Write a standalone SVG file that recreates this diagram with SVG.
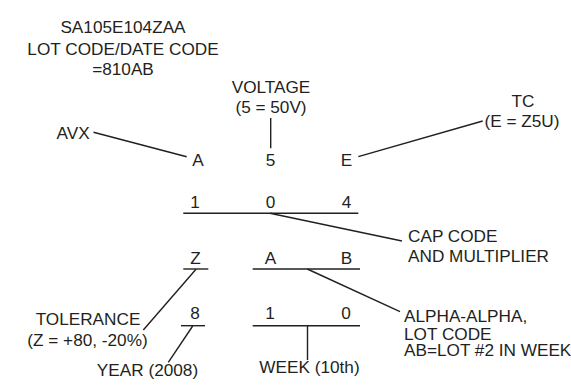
<svg xmlns="http://www.w3.org/2000/svg" width="571" height="392" viewBox="0 0 571 392">
<style>
text{font-family:"Liberation Sans",Arial,Helvetica,sans-serif;font-size:17.2px;fill:#231f20}
.c{text-anchor:middle}
.l{fill:none;stroke:#231f20;stroke-width:1.4}
</style>
<rect width="571" height="392" fill="#fff"/>
<g id="title">
<text class="c" x="123" y="32.5">SA105E104ZAA</text>
<text class="c" x="123" y="54.5">LOT CODE/DATE CODE</text>
<text class="c" x="123" y="75">=810AB</text>
</g>
<g id="voltage"><text class="c" x="271" y="92.5">VOLTAGE</text><text class="c" x="271" y="113">(5 = 50V)</text></g>
<g id="avx"><text x="56.5" y="138.5">AVX</text></g>
<g id="tc"><text class="c" x="523" y="107">TC</text><text class="c" x="522" y="127">(E = Z5U)</text></g>
<g id="row1"><text class="c" x="198" y="166">A</text><text class="c" x="270.5" y="166">5</text><text class="c" x="346.5" y="166">E</text></g>
<g id="row2"><text class="c" x="195" y="207.5">1</text><text class="c" x="270.5" y="207.5">0</text><text class="c" x="346.5" y="207.5">4</text></g>
<g id="capcode"><text x="408" y="241.5">CAP CODE</text><text x="408" y="261.5">AND MULTIPLIER</text></g>
<g id="row3"><text class="c" x="195.5" y="264">Z</text><text class="c" x="270.5" y="264">A</text><text class="c" x="346.5" y="264">B</text></g>
<g id="row4"><text class="c" x="195" y="319">8</text><text class="c" x="270" y="319">1</text><text class="c" x="346" y="319">0</text></g>
<g id="tolerance"><text class="c" x="88" y="325">TOLERANCE</text><text class="c" x="87.5" y="346">(Z = +80, -20%)</text></g>
<g id="alpha"><text x="404" y="321.5">ALPHA-ALPHA,</text><text x="404" y="339.5">LOT CODE</text><text x="404" y="356">AB=LOT #2 IN WEEK</text></g>
<g id="year"><text class="c" x="147.5" y="376">YEAR (2008)</text></g>
<g id="week"><text class="c" x="309.5" y="372.5">WEEK (10th)</text></g>
<g id="connectors" class="l">
<line x1="93.5" y1="132.3" x2="186.7" y2="156.7"/>
<line x1="270.7" y1="118" x2="270.7" y2="148.3"/>
<line x1="482.7" y1="121" x2="358.3" y2="156.7"/>
<line x1="183.3" y1="213.3" x2="358.3" y2="213.3"/>
<line x1="270" y1="213.3" x2="402" y2="241"/>
<line x1="183.3" y1="269" x2="208.3" y2="269"/>
<line x1="252.7" y1="269" x2="360" y2="269"/>
<line x1="307.3" y1="269" x2="400" y2="311.7"/>
<line x1="196" y1="269.3" x2="143.3" y2="330"/>
<line x1="181" y1="325.7" x2="205" y2="325.7"/>
<line x1="252.7" y1="325.7" x2="360" y2="325.7"/>
<line x1="307.5" y1="325.7" x2="307.5" y2="360"/>
<line x1="192.7" y1="326" x2="168.3" y2="362.3"/>
</g>
</svg>
